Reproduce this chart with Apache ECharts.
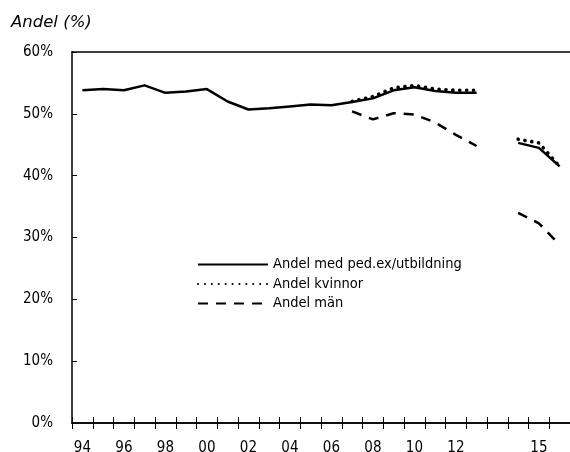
<!DOCTYPE html>
<html>
<head>
<meta charset="utf-8">
<script src="https://cdn.jsdelivr.net/npm/echarts@6/dist/echarts.min.js"></script>
<style>
html,body{margin:0;padding:0;background:#fff;}
#c{width:570px;height:452px;}
</style>
</head>
<body>
<div id="c"></div>
<script>
// Categories (years); index 20 is the break between the two series segments
const categories = ['94','95','96','97','98','99','00','01','02','03','04','05','06','07','08','09','10','11','12','13','','14','15','16'];
const shownLabels = ['94','96','98','00','02','04','06','08','10','12','15'];
const yTicks = [0,10,20,30,40,50,60];

const andelPed = [53.8,54.0,53.8,54.6,53.4,53.6,54.0,52.0,50.7,50.9,51.2,51.5,51.4,51.9,52.5,53.8,54.3,53.7,53.4,53.4,null,45.3,44.5,41.5];
const andelKvinnor = [null,null,null,null,null,null,null,null,null,null,null,null,null,52.0,52.8,54.2,54.6,54.0,53.8,53.8,null,45.9,45.3,41.5];
const andelMan = [null,null,null,null,null,null,null,null,null,null,null,null,null,50.4,49.1,50.1,49.9,48.6,46.6,44.8,null,34.0,32.3,28.8];

const seriesNames = ['Andel med ped.ex/utbildning','Andel kvinnor','Andel män'];
const titleText = 'Andel (%)';

const NARROW = "'Liberation Sans Narrow','DejaVu Sans Condensed',sans-serif";

const chart = echarts.init(document.getElementById('c'), null, {renderer:'canvas'});
chart.setOption({
  animation:false,
  backgroundColor:'#fff',
  title:{
    text:titleText, left:6, top:9, padding:5,
    textStyle:{fontFamily:"'DejaVu Sans',sans-serif", fontStyle:'italic', fontWeight:'normal', fontSize:16.5, color:'#000'}
  },
  grid:{left:72, right:0, top:52, bottom:29, containLabel:false, outerBoundsMode:'none'},
  legend:{
    orient:'vertical', left:197, top:257, padding:0, itemWidth:70, itemHeight:14, itemGap:4.5,
    itemStyle:{opacity:0},
    textStyle:{fontFamily:NARROW, fontSize:14.5, lineHeight:14, color:'#000'},
    data:seriesNames
  },
  xAxis:[
    {type:'category', data:categories, position:'bottom', boundaryGap:true,
     axisLine:{show:true, lineStyle:{color:'#000', width:1.5}},
     axisTick:{show:true, interval:0, length:6, lineStyle:{color:'#000', width:1}},
     axisLabel:{interval:(i,v)=>shownLabels.indexOf(v)>=0, margin:18, fontFamily:NARROW, fontSize:15, color:'#000'},
     splitLine:{show:false}},
    {type:'category', data:categories, position:'bottom', boundaryGap:true,
     axisLine:{show:true, lineStyle:{color:'#000', width:1.5}},
     axisTick:{show:true, inside:true, interval:0, length:6, lineStyle:{color:'#000', width:1}},
     axisLabel:{show:false}, splitLine:{show:false}},
    {type:'category', data:categories, position:'top', boundaryGap:true,
     axisLine:{show:true, lineStyle:{color:'#000', width:1.5}},
     axisTick:{show:false}, axisLabel:{show:false}, splitLine:{show:false}}
  ],
  yAxis:{
    type:'value', min:yTicks[0], max:yTicks[yTicks.length-1], interval:10,
    axisLine:{show:true, lineStyle:{color:'#000', width:1.5}},
    axisTick:{show:true, inside:true, length:5, lineStyle:{color:'#000'}},
    axisLabel:{formatter:'{value}%', margin:19, fontFamily:NARROW, fontSize:15, color:'#000'},
    splitLine:{show:false}
  },
  series:[
    {name:seriesNames[0], type:'line', data:andelPed, symbol:'none', connectNulls:false,
     lineStyle:{color:'#000', width:2.5}, itemStyle:{color:'#000'}},
    {name:seriesNames[1], type:'line', data:andelKvinnor, symbol:'none', connectNulls:false,
     lineStyle:{color:'#000', width:3.6, type:[0.1,6.8], cap:'round'}, itemStyle:{color:'#000'}},
    {name:seriesNames[2], type:'line', data:andelMan, symbol:'none', connectNulls:false,
     lineStyle:{color:'#000', width:2.5, type:[10,8]}, itemStyle:{color:'#000'}}
  ]
});
</script>
</body>
</html>
